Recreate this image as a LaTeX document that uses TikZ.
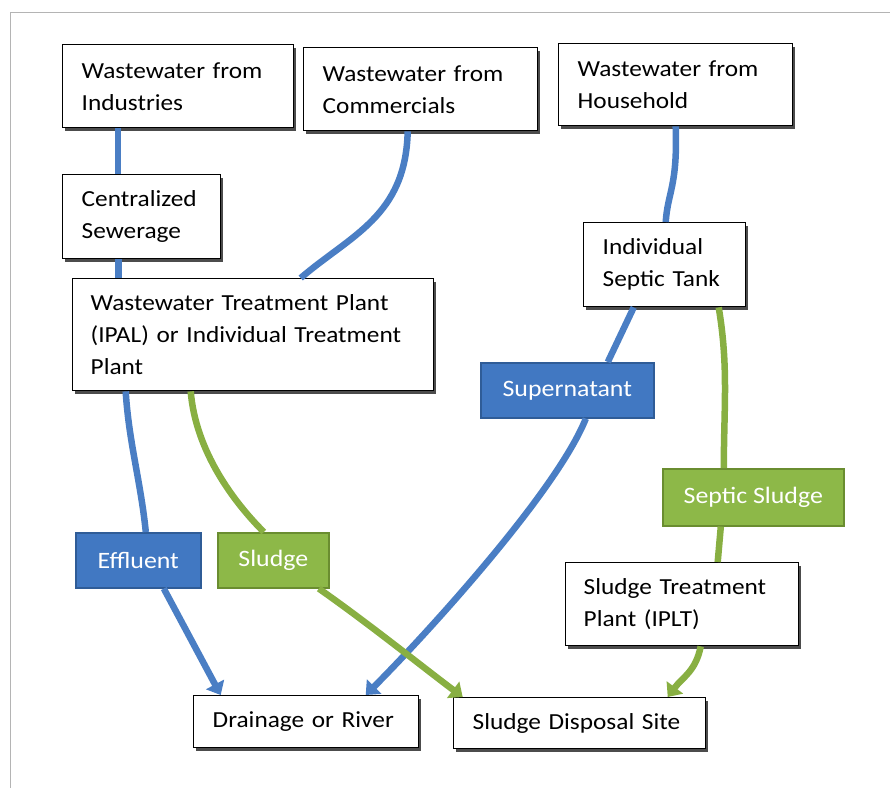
\documentclass[tikz,border=0pt]{standalone}
\usepackage{fontspec}
\setmainfont{Carlito}[FakeStretch=1.1]
\usetikzlibrary{arrows.meta,shadows}
\definecolor{lblue}{HTML}{4A7EC4}
\definecolor{fblue}{HTML}{4178C2}
\definecolor{dblue}{HTML}{2F5C97}
\definecolor{lgreen}{HTML}{88AF42}
\definecolor{fgreen}{HTML}{8DB848}
\definecolor{dgreen}{HTML}{6A8D30}
\definecolor{frame}{HTML}{B4B4B4}
\tikzset{
  box/.style={draw=black, line width=1.4pt, fill=white, anchor=north west,
    inner xsep=19pt, inner ysep=0pt, align=left,
    font=\fontsize{23}{32}\selectfont,
    drop shadow={shadow xshift=2.6pt, shadow yshift=-2.8pt, fill=black!70, opacity=1}},
  lbl/.style={anchor=north west, inner sep=0pt, line width=1.6pt, text=white,
    align=center, font=\fontsize{23.5}{28}\selectfont,
    drop shadow={shadow xshift=1.5pt, shadow yshift=-1.5pt, fill=black!35, opacity=1}},
  bluelbl/.style={lbl, fill=fblue, draw=dblue},
  greenlbl/.style={lbl, fill=fgreen, draw=dgreen},
  blueline/.style={draw=lblue, line width=6.5pt},
  greenline/.style={draw=lgreen, line width=6.5pt},
  tip/.style={-{Triangle[width=20pt,length=12pt]}}
}
\begin{document}
\begin{tikzpicture}[x=1pt,y=-1pt]
\useasboundingbox (0,0) rectangle (890,787);
\draw[frame, line width=1pt] (10,800) -- (10,12) -- (900,12);

\node[box, text width=193pt, minimum height=83pt] (ind) at (62,44) {Wastewater from\\Industries};
\node[box, text width=196pt, minimum height=83pt] (com) at (303,47) {Wastewater from\\Commercials};
\node[box, text width=196pt, minimum height=82pt] (hou) at (558,43) {Wastewater from\\Household};
\node[box, text width=120pt, minimum height=84pt] (cen) at (62,174) {Centralized\\Sewerage};
\node[box, inner xsep=18pt, text width=325pt, minimum height=112pt] (wwtp) at (72,278) {Wastewater Treatment Plant\\(IPAL) or Individual Treatment\\Plant};
\node[box, text width=124pt, minimum height=84pt] (sep) at (583,222) {Individual\\Septic Tank};
\node[bluelbl, minimum width=173pt, minimum height=55pt] (sup) at (480,362) {Supernatant};
\node[greenlbl, minimum width=181pt, minimum height=57pt] (ssl) at (662,468) {Septic Sludge};
\node[box, inner xsep=18pt, text width=197pt, minimum height=83pt] (iplt) at (565,562) {Sludge Treatment\\Plant (IPLT)};
\node[bluelbl, minimum width=125pt, minimum height=55pt] (eff) at (75,532) {Effluent};
\node[greenlbl, minimum width=111pt, minimum height=55pt] (slu) at (217,532) {Sludge};
\node[box, text width=187pt, minimum height=52pt] (dra) at (193,695) {Drainage or River};
\node[box, text width=214pt, minimum height=51pt] (dis) at (453,697) {Sludge Disposal Site};

\draw[blueline] ([xshift=-60pt]ind.south) -- ([xshift=-60pt]ind.south |- cen.north);
\draw[blueline] ([xshift=-23pt]cen.south) -- ([xshift=-23pt]cen.south |- wwtp.north);
\draw[blueline] ([xshift=-13pt]com.south) .. controls +(-2,85) and +(50,-43) .. ([xshift=47.5pt]wwtp.north);
\draw[blueline] (hou.south) .. controls +(2,60) and +(2,-30) .. ([xshift=1pt]sep.north);
\draw[blueline] ([xshift=-31pt]sep.south) -- ([xshift=40.5pt]sup.north);
\draw[blueline, tip] ([xshift=18.5pt]sup.south) .. controls +(-30,75) and +(55,-55) .. ([xshift=59.5pt]dra.north);
\draw[greenline] ([xshift=54pt]sep.south) .. controls +(10,60) and +(0,-60) .. ([xshift=-29.5pt]ssl.north);
\draw[greenline] ([xshift=-32.5pt]ssl.south) -- ([xshift=35.5pt]iplt.north);
\draw[greenline, tip] ([xshift=18.5pt]iplt.south) .. controls +(-5,25) and +(15,-20) .. ([xshift=88pt]dis.north);
\draw[blueline] ([xshift=-127.5pt]wwtp.south) .. controls +(3,50) and +(-5,-50) .. ([xshift=7.5pt]eff.north);
\draw[blueline, tip] ([xshift=25.5pt]eff.south) -- ([xshift=-85.5pt]dra.north);
\draw[greenline] ([xshift=-62.5pt]wwtp.south) .. controls +(5,60) and +(-30,-30) .. ([xshift=-9.5pt]slu.north);
\draw[greenline, tip] ([xshift=45.5pt]slu.south) .. controls +(50,35) and +(-40,-30) .. ([xshift=-117pt]dis.north);
\end{tikzpicture}
\end{document}
